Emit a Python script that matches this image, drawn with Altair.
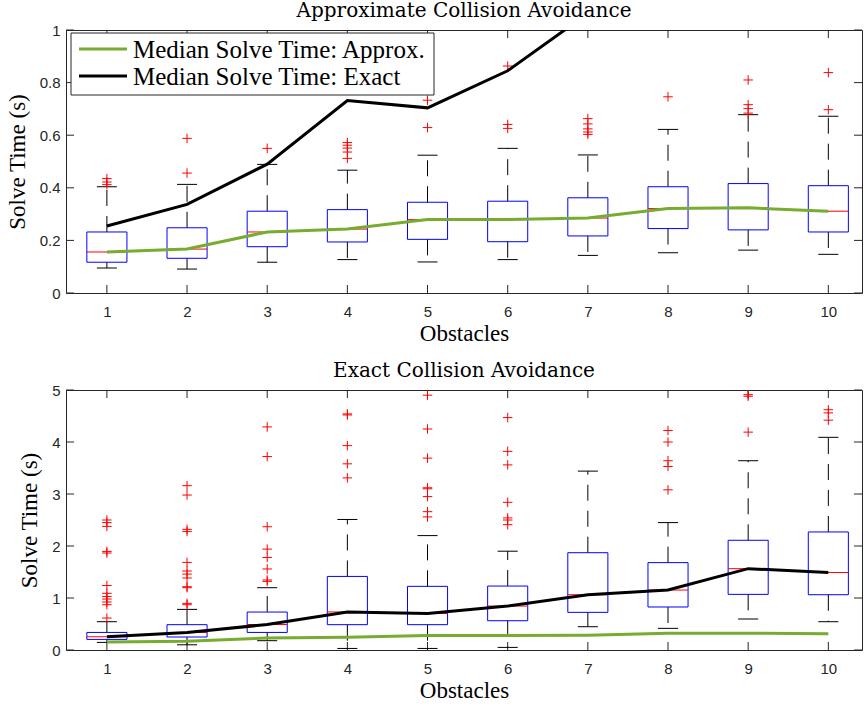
import altair as alt
import pandas as pd

obstacles = [1, 2, 3, 4, 5, 6, 7, 8, 9, 10]

# Approximate collision avoidance (box statistics, seconds)
approx_q1 = [0.117, 0.132, 0.176, 0.194, 0.204, 0.195, 0.217, 0.245, 0.240, 0.232]
approx_median = [0.156, 0.167, 0.232, 0.243, 0.279, 0.279, 0.285, 0.321, 0.324, 0.311]
approx_q3 = [0.232, 0.248, 0.311, 0.317, 0.345, 0.349, 0.362, 0.404, 0.416, 0.408]
approx_lower = [0.095, 0.091, 0.117, 0.127, 0.118, 0.127, 0.143, 0.153, 0.163, 0.147]
approx_upper = [0.404, 0.413, 0.489, 0.467, 0.524, 0.550, 0.525, 0.622, 0.678, 0.672]
approx_outliers = [
    [0.412, 0.422, 0.435],
    [0.456, 0.588],
    [0.550],
    [0.512, 0.536, 0.551, 0.562, 0.572],
    [0.629, 0.733],
    [0.626, 0.641, 0.863],
    [0.603, 0.612, 0.624, 0.643, 0.663],
    [0.746],
    [0.684, 0.701, 0.716, 0.810],
    [0.697, 0.838],
]

# Exact collision avoidance (box statistics, seconds)
exact_q1 = [0.204, 0.250, 0.338, 0.487, 0.487, 0.563, 0.724, 0.827, 1.070, 1.063]
exact_median = [0.255, 0.337, 0.490, 0.732, 0.704, 0.845, 1.063, 1.153, 1.564, 1.490]
exact_q3 = [0.338, 0.487, 0.730, 1.415, 1.224, 1.230, 1.871, 1.680, 2.110, 2.270]
exact_lower = [0.146, 0.100, 0.179, 0.030, 0.030, 0.050, 0.448, 0.416, 0.596, 0.544]
exact_upper = [0.544, 0.781, 1.198, 2.510, 2.200, 1.900, 3.440, 2.450, 3.640, 4.090]
exact_outliers = [
    [0.615, 0.871, 0.923, 0.980, 1.030, 1.090, 1.240, 1.865, 1.896, 2.377, 2.450, 2.500],
    [0.871, 0.897, 1.198, 1.217, 1.385, 1.460, 1.519, 1.685, 2.280, 2.320, 2.980, 3.160],
    [1.320, 1.346, 1.558, 1.780, 1.940, 2.370, 3.720, 4.290],
    [3.310, 3.580, 3.930, 4.520, 4.540],
    [2.560, 2.660, 2.950, 3.100, 3.120, 3.690, 4.250, 4.900],
    [2.410, 2.500, 2.540, 2.840, 3.560, 3.820, 4.470],
    [],
    [3.080, 3.530, 3.640, 4.000, 4.220],
    [4.190, 4.880, 4.910],
    [4.420, 4.560, 4.620],
]

series_names = ["Median Solve Time: Approx.", "Median Solve Time: Exact"]
series_colors = ["#77AC30", "#000000"]

top_yticks = [0, 0.2, 0.4, 0.6, 0.8, 1]
bottom_yticks = [0, 1, 2, 3, 4, 5]

W = 796
TICK = 8


def legend_layers():
    one = pd.DataFrame({"k": [0]})
    frame = alt.Chart(one).mark_rect(fill="white", stroke="#262626", strokeWidth=1).encode(
        x=alt.value(5), x2=alt.value(368), y=alt.value(3), y2=alt.value(65))
    layers = [frame]
    rows_y = [19, 46]
    for name, col, yy in zip(series_names, series_colors, rows_y):
        d = pd.DataFrame({"series": [name]})
        layers.append(alt.Chart(d).mark_rule(color=col, strokeWidth=3).encode(
            x=alt.value(13), x2=alt.value(61), y=alt.value(yy)))
        layers.append(alt.Chart(d).mark_text(
            align="left", baseline="middle", font="Liberation Serif", fontSize=25,
            color="black", dy=1).encode(
            x=alt.value(67), y=alt.value(yy), text="series:N"))
    return layers


def panel(q1, med, q3, lo, hi, outl, ymax, yticks, height, title, show_legend):
    box = pd.DataFrame({"x": obstacles, "q1": q1, "med": med, "q3": q3, "lo": lo, "hi": hi})
    out = pd.DataFrame(
        [{"x": o, "v": v} for o, vals in zip(obstacles, outl) for v in vals]
    )
    lines = pd.DataFrame(
        {"x": obstacles * 2,
         "v": approx_median + exact_median,
         "series": [series_names[0]] * 10 + [series_names[1]] * 10}
    )
    xticks_df = pd.DataFrame({"t": obstacles})
    yticks_df = pd.DataFrame({"t": yticks})

    xs = alt.Scale(domain=[0.49, 10.42], nice=False, zero=False)
    ys = alt.Scale(domain=[0, ymax], nice=False, zero=False)
    xa = alt.Axis(values=obstacles, title="Obstacles", labelPadding=11,
                  titlePadding=3, format="d")
    ya = alt.Axis(values=yticks, title="Solve Time (s)", labelPadding=6,
                  titlePadding=10, format="~g")
    nx = dict(scale=xs, axis=xa)
    ny = dict(scale=ys, axis=ya)

    base = alt.Chart(box).transform_calculate(
        xl="datum.x - 0.25", xr="datum.x + 0.25",
        cl="datum.x - 0.125", cr="datum.x + 0.125",
    )

    whisk_up = base.mark_rule(color="black", strokeWidth=1, strokeDash=[16, 10]).encode(
        x=alt.X("x:Q", **nx), y=alt.Y("q3:Q", **ny), y2="hi:Q")
    whisk_lo = base.mark_rule(color="black", strokeWidth=1, strokeDash=[16, 10]).encode(
        x=alt.X("x:Q", **nx), y=alt.Y("q1:Q", **ny), y2="lo:Q")
    cap_up = base.mark_rule(color="black", strokeWidth=1).encode(
        x=alt.X("cl:Q", **nx), x2="cr:Q", y=alt.Y("hi:Q", **ny))
    cap_lo = base.mark_rule(color="black", strokeWidth=1).encode(
        x=alt.X("cl:Q", **nx), x2="cr:Q", y=alt.Y("lo:Q", **ny))
    boxes = base.mark_rect(stroke="#0000FF", strokeWidth=1, fillOpacity=0).encode(
        x=alt.X("xl:Q", **nx), x2="xr:Q", y=alt.Y("q1:Q", **ny), y2="q3:Q")
    medians = base.mark_rule(color="#FF0000", strokeWidth=1).encode(
        x=alt.X("xl:Q", **nx), x2="xr:Q", y=alt.Y("med:Q", **ny))
    pts = alt.Chart(out).mark_point(
        shape="M-1,0L1,0M0,-1L0,1", size=90, color="#FF0000", filled=False,
        strokeWidth=1, opacity=1
    ).encode(x=alt.X("x:Q", **nx), y=alt.Y("v:Q", **ny))

    color_enc = alt.Color("series:N", legend=None,
                          scale=alt.Scale(domain=series_names, range=series_colors))
    line = alt.Chart(lines).mark_line(strokeWidth=3, clip=True).encode(
        x=alt.X("x:Q", **nx), y=alt.Y("v:Q", **ny), color=color_enc)

    tick_color = "#262626"
    tb = alt.Chart(xticks_df).mark_rule(color=tick_color).encode(
        x=alt.X("t:Q", **nx), y=alt.value(height), y2=alt.value(height - TICK))
    tt = alt.Chart(xticks_df).mark_rule(color=tick_color).encode(
        x=alt.X("t:Q", **nx), y=alt.value(0), y2=alt.value(TICK))
    tl = alt.Chart(yticks_df).mark_rule(color=tick_color).encode(
        y=alt.Y("t:Q", **ny), x=alt.value(0), x2=alt.value(TICK))
    tr = alt.Chart(yticks_df).mark_rule(color=tick_color).encode(
        y=alt.Y("t:Q", **ny), x=alt.value(W), x2=alt.value(W - TICK))

    layers = [tb, tt, tl, tr, whisk_up, whisk_lo, cap_up, cap_lo,
              boxes, medians, pts, line]
    if show_legend:
        layers += legend_layers()

    return alt.layer(*layers).properties(
        width=W, height=height,
        title=alt.TitleParams(title, offset=-14, baseline="alphabetic"),
    )


top = panel(approx_q1, approx_median, approx_q3, approx_lower, approx_upper,
            approx_outliers, 1, top_yticks, 263, "Approximate Collision Avoidance", True)
bottom = panel(exact_q1, exact_median, exact_q3, exact_lower, exact_upper,
               exact_outliers, 5, bottom_yticks, 260, "Exact Collision Avoidance", False)

chart = alt.vconcat(top, bottom, spacing=97, bounds="flush").properties(
    padding={"left": 5, "top": 0, "right": 1, "bottom": 0},
).configure_view(
    stroke="#262626", strokeWidth=1
).configure_axis(
    domain=False, ticks=False, grid=False,
    labelFont="Liberation Sans", labelFontSize=15, labelColor="#262626",
    titleFont="Liberation Serif", titleFontSize=23, titleFontWeight="normal",
    titleColor="#000000",
).configure_title(
    font="DejaVu Serif", fontSize=20, fontWeight="normal", color="#000000",
    anchor="middle",
)

chart.save("out.html", embed_options={"renderer": "svg", "actions": False})
